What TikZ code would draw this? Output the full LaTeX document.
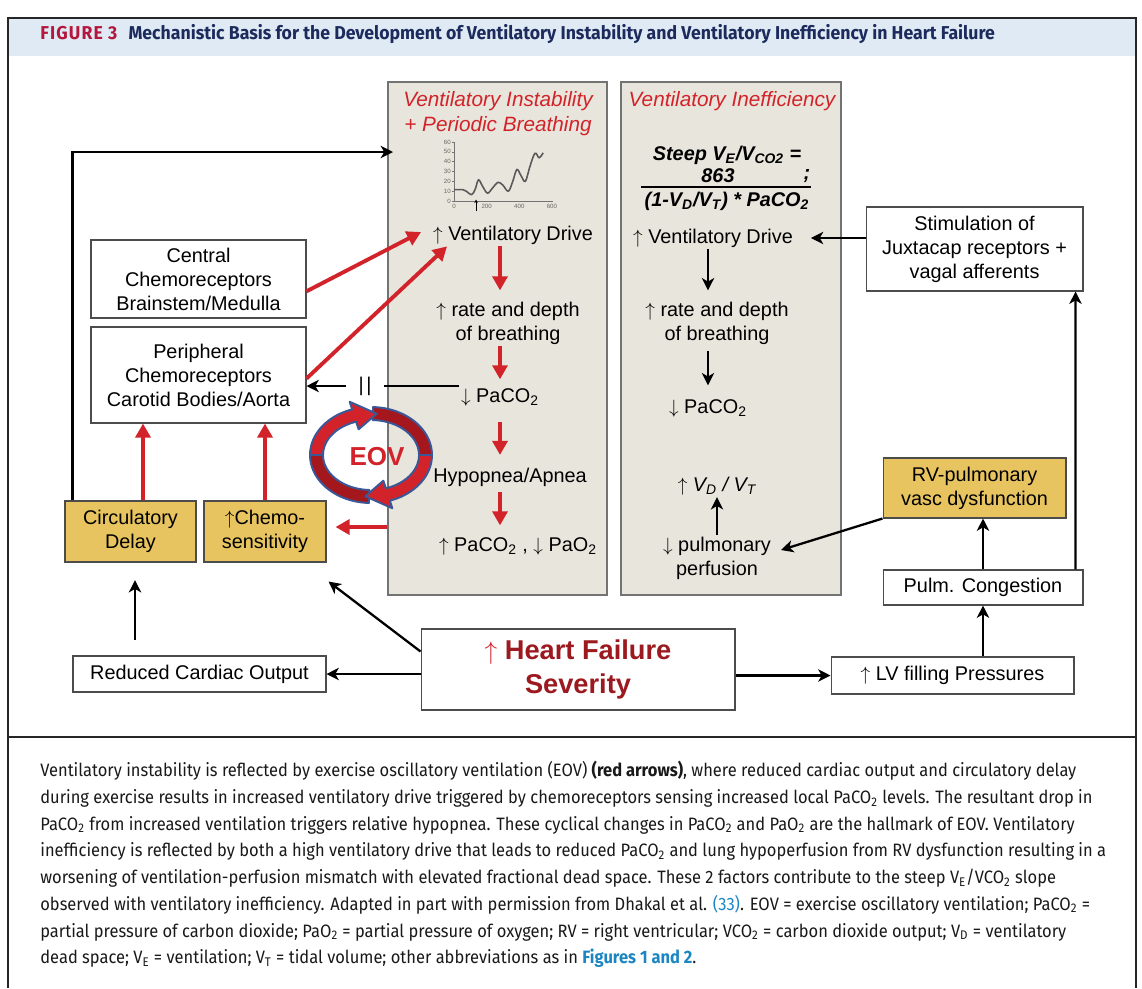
\documentclass[tikz,border=0pt]{standalone}
\usepackage{fontspec}
\setmainfont{Liberation Sans}
\newfontfamily\capfont[FakeStretch=0.92]{Fira Sans}
\newfontfamily\headfont[FakeStretch=0.95]{Fira Sans}
\usetikzlibrary{positioning, calc, arrows.meta}
\definecolor{Panel}{HTML}{E8E6DC}
\definecolor{Gold}{HTML}{E7C45F}
\definecolor{ArrRed}{HTML}{D2232A}
\definecolor{DeepRed}{HTML}{9C1A1F}
\definecolor{RibbonDark}{HTML}{A3171D}
\definecolor{RibbonBlue}{HTML}{3A5798}
\definecolor{HeadBlue}{HTML}{DFEAF5}
\definecolor{FigRed}{HTML}{B3173C}
\definecolor{Navy}{HTML}{1C2B5C}
\definecolor{LinkBlue}{HTML}{1C86C2}
\newcommand{\dfont}{\fontsize{11.3}{13.6}\selectfont}
\newcommand{\uarr}{$\uparrow$}
\newcommand{\darr}{$\downarrow$}
\tikzset{
    box/.style={rectangle, draw=black!70, fill=white, line width=0.6pt, align=center, font=\dfont, inner sep=0pt},
    goldbox/.style={box, fill=Gold},
    panel/.style={rectangle, draw=black!55, fill=Panel, line width=0.8pt},
    txt/.style={align=center, font=\dfont, inner sep=1pt},
    redtitle/.style={txt, text=ArrRed, font=\fontsize{11.8}{14.2}\selectfont\itshape},
    redarr/.style={draw=ArrRed, line width=2.2pt, -{Triangle[length=8pt,width=8.5pt]}},
    blkarr/.style={draw=black, line width=1.3pt, -{Stealth[length=7pt,width=7pt,inset=2pt]}},
    ribbon/.style={draw=RibbonBlue, line width=1.1pt, line join=round},
    tick/.style={font=\fontsize{3.5}{4}\selectfont, text=black!60, inner sep=0.5pt},
}

\begin{document}
\begin{tikzpicture}[x=0.02cm, y=-0.02cm]
\useasboundingbox[fill=white] (0,0) rectangle (1142,988);

% frame and header
\fill[HeadBlue] (8,18) rectangle (1136,56);
\draw[line width=1.2pt, black!85] (8,988) -- (8,18) -- (1136,18) -- (1136,988);
\draw[line width=1pt, black!85] (8,737) -- (1136,737);
\node[anchor=west, inner sep=0pt, font=\headfont\bfseries\fontsize{10.6}{12}\selectfont] (title) at (40,34)
  {\textcolor{FigRed}{\addfontfeature{LetterSpace=6}FIGURE 3}\hspace{0.6em}\textcolor{Navy}{Mechanistic Basis for the Development of Ventilatory Instability and Ventilatory Inefficiency in Heart Failure}};

% panels
\node[panel, minimum width=4.38cm, minimum height=10.26cm] (panA) at (497.5,338.5) {};
\node[panel, minimum width=4.40cm, minimum height=10.26cm] (panB) at (731,338.5) {};
\coordinate (colA) at (500,0);
\coordinate (colB) at (708,0);
\coordinate (colC) at (717,0);

% panel A: instability
\node[redtitle] (titA) at (498,114) {Ventilatory Instability\\+ Periodic Breathing};
\begin{scope}[shift={(454,201)}, x=0.003267cm, y=0.01967cm]
  \draw[black!55, line width=0.3pt] (0,60) -- (0,0) -- (600,0);
  \foreach \v in {0,10,...,60} {
    \draw[black!55, line width=0.3pt] (-10,\v) -- (0,\v);
    \node[tick, anchor=east] at (-12,\v) {\v};
  }
  \foreach \v in {0,200,400,600} {
    \draw[black!55, line width=0.3pt] (\v,0) -- (\v,-1.5);
    \node[tick, anchor=north] at (\v,-2) {\v};
  }
  \draw[black!65, line width=0.9pt] plot[smooth, tension=0.6] coordinates {
    (0,11.5) (55,11.5) (75,10) (108,6.5) (130,12) (150,21.5) (175,15) (205,8) (235,13)
    (270,19) (300,16) (333,10) (360,20) (385,32) (410,26) (437,20) (465,35) (496,48.5)
    (522,44) (546,49)};
  \draw[black, line width=0.5pt, -{Stealth[length=2pt,width=2pt]}] (135,-10) -- (135,1.5);
\end{scope}
\node[txt] (vdA) at (513,235) {\uarr\ Ventilatory Drive};
\node[txt] (rateA) at (508,323) {\uarr\ rate and depth\\of breathing};
\node[txt] (pcoA) at (500,397) {\darr\ PaCO\textsubscript{2}};
\node[txt] (hypo) at (510,477) {Hypopnea/Apnea};
\node[txt] (endA) at (518,546) {\uarr\ PaCO\textsubscript{2} , \darr\ PaO\textsubscript{2}};
\draw[redarr] (vdA.south -| colA) -- ++(0,44);
\draw[redarr] (rateA.south -| colA) -- ++(0,33);
\draw[redarr] ($(pcoA.south -| colA)+(0,14)$) -- ++(0,33);
\draw[redarr] ($(hypo.south -| colA)+(0,4)$) -- ++(0,33);

% panel B: inefficiency
\node[redtitle] (titB) at (732,101) {Ventilatory Inefficiency};
\node[txt, font=\dfont\bfseries\itshape] (fnum) at (727,155) {Steep V\textsubscript{E}/V\textsubscript{CO2} =};
\node[txt, font=\dfont\bfseries\itshape] (f863) at (718,176) {863};
\node[txt, font=\dfont\bfseries\itshape] (fsemi) at (807,176) {;};
\draw[line width=1pt] (641,187) -- (811,187);
\node[txt, font=\dfont\bfseries\itshape] (fden) at (727,201) {(1-V\textsubscript{D}/V\textsubscript{T}) * PaCO\textsubscript{2}};
\node[txt] (vdB) at (713,238) {\uarr\ Ventilatory Drive};
\node[txt] (rateB) at (717,323) {\uarr\ rate and depth\\of breathing};
\node[txt] (pcoB) at (708,408) {\darr\ PaCO\textsubscript{2}};
\node[txt] (vdvt) at (717,486) {\uarr\ \textit{V\textsubscript{D} / V\textsubscript{T}}};
\node[txt] (perf) at (717,558) {\darr\ pulmonary\\perfusion};
\draw[blkarr] (vdB.south -| colB) -- ++(0,41);
\draw[blkarr] ($(rateB.south -| colB)+(0,5)$) -- ++(0,34);
\draw[blkarr] (perf.north -| colC) -- (vdvt.south -| colC);

% left side boxes
\node[box, minimum width=4.30cm, minimum height=1.56cm] (cent) at (198.5,279) {Central\\Chemoreceptors\\Brainstem/Medulla};
\node[box, minimum width=4.30cm, minimum height=1.92cm] (peri) at (198.5,375) {Peripheral\\Chemoreceptors\\Carotid Bodies/Aorta};
\node[goldbox, minimum width=2.62cm, minimum height=1.22cm] (circ) at (130.5,531.5) {Circulatory\\Delay};
\node[goldbox, minimum width=2.44cm, minimum height=1.22cm] (chemo) at (265,531.5) {\uarr Chemo-\\sensitivity};
\node[box, minimum width=5.06cm, minimum height=0.72cm] (rco) at (199.5,674) {Reduced Cardiac Output};
\node[box, minimum width=6.28cm, minimum height=1.62cm, font=\bfseries\fontsize{15.5}{19.5}\selectfont, text=DeepRed] (hf) at (578,669.5)
  {\textcolor{ArrRed}{\uarr} Heart Failure\\Severity};

% right side boxes
\node[box, minimum width=4.34cm, minimum height=1.68cm] (stim) at (974.5,249) {Stimulation of\\Juxtacap receptors +\\vagal afferents};
\node[goldbox, minimum width=3.66cm, minimum height=1.20cm] (rv) at (974.5,488) {RV-pulmonary\\vasc dysfunction};
\node[box, minimum width=4.00cm, minimum height=0.70cm] (pulm) at (983,587.5) {Pulm. Congestion};
\node[box, minimum width=4.86cm, minimum height=0.74cm] (lvp) at (952.5,675.5) {\uarr\ LV filling Pressures};

% EOV cycle
\filldraw[ribbon, fill=RibbonDark] plot[domain=272:362, samples=24] ({371+61*cos(\x)},{455+48*sin(\x)})
   -- plot[domain=362:272, samples=24] ({371+48*cos(\x)},{455+35*sin(\x)}) -- cycle;
\filldraw[ribbon, fill=RibbonDark] plot[domain=92:182, samples=24] ({371+61*cos(\x)},{455+48*sin(\x)})
   -- plot[domain=182:92, samples=24] ({371+48*cos(\x)},{455+35*sin(\x)}) -- cycle;
\filldraw[ribbon, fill=ArrRed] plot[domain=180:252, samples=20] ({371+61*cos(\x)},{455+48*sin(\x)})
   -- ({371+69*cos(252)},{455+56*sin(252)})
   -- ({371+54.5*cos(276)},{455+41.5*sin(276)})
   -- ({371+40*cos(252)},{455+27*sin(252)})
   -- plot[domain=252:180, samples=20] ({371+48*cos(\x)},{455+35*sin(\x)}) -- cycle;
\filldraw[ribbon, fill=ArrRed] plot[domain=0:72, samples=20] ({371+61*cos(\x)},{455+48*sin(\x)})
   -- ({371+69*cos(72)},{455+56*sin(72)})
   -- ({371+54.5*cos(96)},{455+41.5*sin(96)})
   -- ({371+40*cos(72)},{455+27*sin(72)})
   -- plot[domain=72:0, samples=20] ({371+48*cos(\x)},{455+35*sin(\x)}) -- cycle;
\node[font=\bfseries\fontsize{14.8}{17}\selectfont, text=ArrRed, inner sep=0pt] (eov) at (377,457) {EOV};

% red arrows (instability loop)
\draw[redarr] ([yshift=-7pt]cent.east) -- ($(vdA.west)+(-10,-3)$);
\draw[redarr] ([yshift=-2pt]peri.east) -- ($(vdA.south west)+(16,0)$);
\draw[redarr] (circ.north -| 143,0) -- (peri.south -| 143,0);
\draw[redarr] (chemo.north) -- (chemo.north |- peri.south);
\draw[redarr] (panA.west |- 0,527) -- ($(chemo.east |- 0,527)+(9,0)$);

% black arrows
\coordinate (chartin) at (393,152);
\draw[blkarr] ($(circ.north west)+(8,0)$) |- (chartin);
\node[txt, inner xsep=7pt] (brk) at (365,386) {\textbar\kern1.5pt\textbar};
\draw[line width=1.3pt] (pcoA.west |- brk) -- (brk);
\draw[blkarr] (brk) -- (peri.east |- brk);
\draw[blkarr, shorten <=9pt, shorten >=10pt] (rco.north -| 135,0) -- (circ.south -| 135,0);
\draw[blkarr] (hf.west |- rco) -- (rco.east);
\draw[blkarr] ($(hf.north west)+(0,23)$) -- ($(chemo.south east)+(2,19)$);
\draw[blkarr] (hf.east |- lvp) -- (lvp.west);
\draw[blkarr] (lvp.north -| pulm) -- (pulm.south);
\draw[blkarr] (pulm.north) -- (pulm.north |- rv.south);
\draw[blkarr] ($(pulm.north east)+(-8,0)$) -- ($(stim.south east)+(-8,0)$);
\draw[blkarr] (stim.west |- vdB) -- ($(vdB.east)+(16,0)$);
\draw[blkarr] (rv.south west) -- ($(perf.east)+(8,-8)$);

% caption
\node[anchor=north west, inner sep=0pt, align=left, font=\capfont\fontsize{10.2}{15.2}\selectfont, text=black!90] (cap) at (40,761) {%
Ventilatory instability is reflected by exercise oscillatory ventilation (EOV) \textbf{(red arrows)}, where reduced cardiac output and circulatory delay\\
during exercise results in increased ventilatory drive triggered by chemoreceptors sensing increased local PaCO\textsubscript{2} levels. The resultant drop in\\
PaCO\textsubscript{2} from increased ventilation triggers relative hypopnea. These cyclical changes in PaCO\textsubscript{2} and PaO\textsubscript{2} are the hallmark of EOV. Ventilatory\\
inefficiency is reflected by both a high ventilatory drive that leads to reduced PaCO\textsubscript{2} and lung hypoperfusion from RV dysfunction resulting in a\\
worsening of ventilation-perfusion mismatch with elevated fractional dead space. These 2 factors contribute to the steep V\textsubscript{E}/VCO\textsubscript{2} slope\\
observed with ventilatory inefficiency. Adapted in part with permission from Dhakal et al. \textcolor{LinkBlue}{(33)}. EOV = exercise oscillatory ventilation; PaCO\textsubscript{2} =\\
partial pressure of carbon dioxide; PaO\textsubscript{2} = partial pressure of oxygen; RV = right ventricular; VCO\textsubscript{2} = carbon dioxide output; V\textsubscript{D} = ventilatory\\
dead space; V\textsubscript{E} = ventilation; V\textsubscript{T} = tidal volume; other abbreviations as in \textcolor{LinkBlue}{\textbf{Figures 1 and 2}}.};
\end{tikzpicture}
\end{document}
